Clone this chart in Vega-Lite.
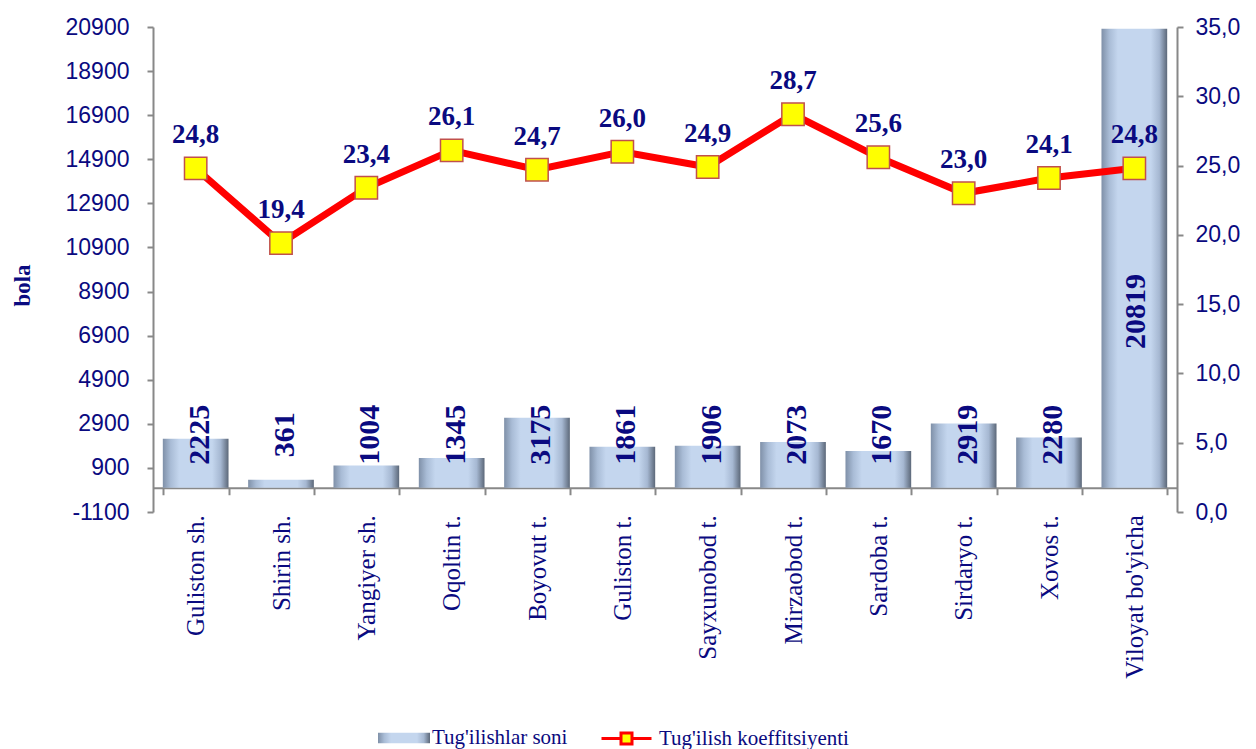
{
  "$schema": "https://vega.github.io/schema/vega-lite/v6.json",
  "width": 1024,
  "height": 485,
  "autosize": {"type": "none"},
  "padding": {"left": 153, "top": 27, "right": 79, "bottom": 237},
  "background": "white",
  "config": {
    "locale": {"number": {"decimal": ",", "thousands": " ", "grouping": [3], "currency": ["", ""], "minus": "-"}},
    "view": {"stroke": null},
    "axis": {"grid": false}
  },
  "data": {
    "values": [
      {"district": "Guliston sh.", "births": 2225, "coef": 24.8},
      {"district": "Shirin sh.", "births": 361, "coef": 19.4},
      {"district": "Yangiyer sh.", "births": 1004, "coef": 23.4},
      {"district": "Oqoltin t.", "births": 1345, "coef": 26.1},
      {"district": "Boyovut t.", "births": 3175, "coef": 24.7},
      {"district": "Guliston t.", "births": 1861, "coef": 26.0},
      {"district": "Sayxunobod t.", "births": 1906, "coef": 24.9},
      {"district": "Mirzaobod t.", "births": 2073, "coef": 28.7},
      {"district": "Sardoba t.", "births": 1670, "coef": 25.6},
      {"district": "Sirdaryo t.", "births": 2919, "coef": 23.0},
      {"district": "Xovos t.", "births": 2280, "coef": 24.1},
      {"district": "Viloyat bo'yicha", "births": 20819, "coef": 24.8}
    ]
  },
  "encoding": {
    "x": {
      "field": "district", "type": "nominal", "sort": null,
      "scale": {"paddingInner": 0.23, "paddingOuter": 0.115},
      "axis": {
        "title": null, "orient": "bottom", "offset": -24.25,
        "labelAngle": -90, "labelAlign": "right", "labelBaseline": "middle",
        "labelFont": "Liberation Serif", "labelFontSize": 25, "labelColor": "#0a0a80",
        "labelPadding": 20, "tickBand": "extent", "tickSize": 7, "tickColor": "#888888",
        "tickWidth": 2, "domainColor": "#888888", "domainWidth": 2
      }
    }
  },
  "layer": [
    {
      "layer": [
        {
          "mark": {"type": "bar"},
          "encoding": {
            "y": {
              "field": "births", "type": "quantitative",
              "scale": {"domain": [-1100, 20900], "nice": false, "zero": false},
              "axis": {
                "orient": "left",
                "values": [-1100, 900, 2900, 4900, 6900, 8900, 10900, 12900, 14900, 16900, 18900, 20900],
                "format": "d", "labelFont": "Liberation Sans", "labelFontSize": 23,
                "labelColor": "#0a0a80", "labelPadding": 18, "tickSize": 6,
                "tickColor": "#888888", "tickWidth": 2, "domainColor": "#888888", "domainWidth": 2,
                "title": "bola", "titleFont": "Liberation Serif", "titleFontSize": 23,
                "titleFontWeight": "bold", "titleColor": "#0a0a80",
                "titleX": -131, "titleY": 258, "titleAngle": -90,
                "titleAlign": "center", "titleBaseline": "middle"
              }
            },
            "fill": {
              "datum": "Tug'ilishlar soni",
              "scale": {"range": [{"expr": "{gradient: 'linear', x1: 0, y1: 0, x2: 1, y2: 0, stops: [{offset: 0, color: '#7f90a8'}, {offset: 0.12, color: '#a9bcd6'}, {offset: 0.25, color: '#c4d6ee'}, {offset: 0.75, color: '#c4d6ee'}, {offset: 0.88, color: '#a6b8d2'}, {offset: 1, color: '#5c6879'}]}"}]},
              "legend": {
                "orient": "none", "legendX": 225, "legendY": 685, "title": null,
                "symbolType": "M-1,-0.2H1V0.2H-1Z", "symbolSize": 2704, "symbolStrokeWidth": 0,
                "labelFont": "Liberation Serif", "labelFontSize": 21, "labelColor": "#0a0a80",
                "labelOffset": 2, "labelLimit": 400
              }
            }
          }
        },
        {
          "transform": [{"filter": {"not": {"field": "district", "equal": "Viloyat bo'yicha"}}}],
          "mark": {"type": "text", "angle": -90, "align": "center", "baseline": "middle", "dy": 4,
                   "font": "Liberation Serif", "fontWeight": "bold", "fontSize": 30, "color": "#0a0a80"},
          "encoding": {
            "y": {"datum": 2400, "type": "quantitative"},
            "text": {"field": "births", "type": "quantitative", "format": "d"}
          }
        },
        {
          "transform": [{"filter": {"field": "district", "equal": "Viloyat bo'yicha"}}],
          "mark": {"type": "text", "angle": -90, "align": "center", "baseline": "middle", "dy": 2,
                   "font": "Liberation Serif", "fontWeight": "bold", "fontSize": 30, "color": "#0a0a80"},
          "encoding": {
            "y": {"datum": 8000, "type": "quantitative"},
            "text": {"field": "births", "type": "quantitative", "format": "d"}
          }
        }
      ]
    },
    {
      "layer": [
        {
          "mark": {"type": "line", "strokeWidth": 7},
          "encoding": {
            "y": {
              "field": "coef", "type": "quantitative",
              "scale": {"domain": [0, 35], "nice": false, "zero": false},
              "axis": {
                "orient": "right", "values": [0, 5, 10, 15, 20, 25, 30, 35], "format": ".1f",
                "labelFont": "Liberation Sans", "labelFontSize": 23, "labelColor": "#0a0a80",
                "labelPadding": 12, "tickSize": 6, "tickColor": "#888888", "tickWidth": 2,
                "domainColor": "#888888", "domainWidth": 2, "title": null
              }
            },
            "stroke": {
              "datum": "Tug'ilish koeffitsiyenti",
              "scale": {"range": ["#ff0000"]},
              "legend": {
                "orient": "none", "legendX": 447, "legendY": 685, "title": null,
                "symbolType": "M-1,0H-0.22M0.22,0H1M-0.22,-0.22H0.22V0.22H-0.22Z",
                "symbolSize": 2500, "symbolStrokeWidth": 3,
                "labelFont": "Liberation Serif", "labelFontSize": 21, "labelColor": "#0a0a80",
                "labelOffset": 6, "labelLimit": 400,
                "encode": {"symbols": {"update": {"fill": {"value": "#ffff00"}, "fillOpacity": {"value": 1}}}}
              }
            }
          }
        },
        {
          "mark": {"type": "point", "shape": "square", "filled": true, "fill": "#ffff00",
                   "stroke": "#c0504d", "strokeWidth": 1.5, "size": 500, "opacity": 1},
          "encoding": {"y": {"field": "coef", "type": "quantitative"}}
        },
        {
          "mark": {"type": "text", "dy": -33, "baseline": "middle", "align": "center",
                   "font": "Liberation Serif", "fontWeight": "bold", "fontSize": 27, "color": "#0a0a80"},
          "encoding": {
            "y": {"field": "coef", "type": "quantitative"},
            "text": {"field": "coef", "type": "quantitative", "format": ".1f"}
          }
        }
      ]
    }
  ],
  "resolve": {"scale": {"y": "independent", "fill": "independent", "stroke": "independent"}}
}
